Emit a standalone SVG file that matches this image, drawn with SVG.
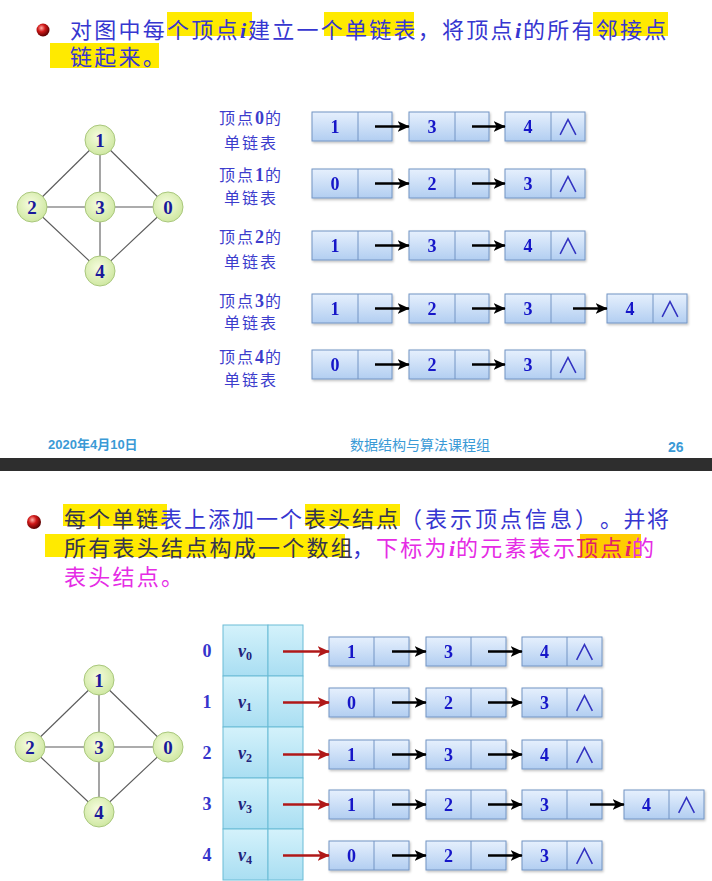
<svg xmlns="http://www.w3.org/2000/svg" width="712" height="881" viewBox="0 0 712 881">
<defs>
<style>
.t{font-family:"Noto Sans CJK SC","Liberation Sans",sans-serif;font-size:22px;letter-spacing:2.25px}
.blue{fill:#3636d0}
.dark{fill:#34344e}
.mag{fill:#e52ce5}
.red{fill:#e0206a}
.it{font-family:"Liberation Serif",serif;font-style:italic;font-weight:bold}
.hl{fill:#ffea00}
.hl2{fill:#ffcc00}
.lab{font-family:"Noto Sans CJK SC","Liberation Sans",sans-serif;font-size:16px;fill:#3c3ccc;text-anchor:middle;letter-spacing:2px}
.ld{font-family:"Liberation Serif",serif;font-weight:bold;font-size:18px;letter-spacing:1px}
.bx rect{fill:url(#gBox);stroke:#7394c4;stroke-width:1}
.bx line{stroke:#7394c4;stroke-width:1}
.bx{filter:url(#sh)}
.num{font-family:"Liberation Serif",serif;font-weight:bold;font-size:18px;fill:#1515c8;text-anchor:middle}
.nil{font-family:"Noto Sans CJK SC","DejaVu Sans",sans-serif;font-size:22px;fill:#3030c0;text-anchor:middle}
.ar{stroke:#000;stroke-width:2.4;fill:none;marker-end:url(#ah)}
.ar2{stroke:#b01818;stroke-width:2.4;fill:none;marker-end:url(#ahr)}
.ed{stroke:#5a5a5a;stroke-width:1.1}
.gn circle{fill:url(#gNode);stroke:#a9c77c;stroke-width:1}
.gn text{font-family:"Liberation Serif",serif;font-weight:bold;font-size:19px;fill:#1a1a9a;text-anchor:middle}
.cell{fill:url(#gArr);stroke:#6bbcd6;stroke-width:1}
.vl{font-family:"Liberation Serif",serif;font-style:italic;font-weight:bold;font-size:18px;fill:#22227a}
.sub{font-style:normal;font-size:12px}
.idx{font-family:"Liberation Serif",serif;font-weight:bold;font-size:18px;fill:#3535cc;text-anchor:middle}
.ft{font-family:"Liberation Sans","Noto Sans CJK SC",sans-serif;fill:#3a9ad6}
</style>
<linearGradient id="gBox" x1="0" y1="0" x2="0" y2="1">
<stop offset="0" stop-color="#e6f0fd"/>
<stop offset="1" stop-color="#b2cef1"/>
</linearGradient>
<linearGradient id="gArr" x1="0" y1="0" x2="0" y2="1">
<stop offset="0" stop-color="#d4f2fb"/>
<stop offset="1" stop-color="#a9def2"/>
</linearGradient>
<radialGradient id="gNode" cx="0.45" cy="0.4" r="0.6">
<stop offset="0" stop-color="#f6fcde"/>
<stop offset="1" stop-color="#cfe8a2"/>
</radialGradient>
<radialGradient id="gBul" cx="0.38" cy="0.35" r="0.65">
<stop offset="0" stop-color="#ffb0a8"/>
<stop offset="0.45" stop-color="#d01818"/>
<stop offset="1" stop-color="#5a0000"/>
</radialGradient>
<filter id="sh" x="-10%" y="-20%" width="130%" height="160%">
<feDropShadow dx="1" dy="1.5" stdDeviation="0.8" flood-color="#000" flood-opacity="0.25"/>
</filter>
<marker id="ah" markerUnits="userSpaceOnUse" viewBox="0 0 10 10" markerWidth="12" markerHeight="12" refX="9.5" refY="5" orient="auto">
<path d="M0,0.5 L10,5 L0,9.5 L2.5,5 z" fill="#000"/>
</marker>
<marker id="ahr" markerUnits="userSpaceOnUse" viewBox="0 0 10 10" markerWidth="12" markerHeight="12" refX="9.5" refY="5" orient="auto">
<path d="M0,0.5 L10,5 L0,9.5 L2.5,5 z" fill="#b01818"/>
</marker>
</defs>
<rect width="712" height="881" fill="#fff"/>

<!-- ===== Top slide ===== -->
<g id="title1">
<rect class="hl" x="167" y="12" width="85" height="24"/>
<rect class="hl" x="324" y="12" width="90" height="24"/>
<rect class="hl" x="593" y="12" width="75" height="24"/>
<rect class="hl" x="50" y="43" width="109" height="25"/>
<circle cx="43" cy="30" r="6.5" fill="url(#gBul)"/>
<text class="t blue" y="38"><tspan x="70">对图中每个顶点</tspan><tspan class="it" x="240" letter-spacing="0">i</tspan><tspan x="248">建立一个单链表，将顶点</tspan><tspan class="it" x="515" letter-spacing="0">i</tspan><tspan x="523">的所有邻接点</tspan></text>
<text class="t blue" x="70" y="65">链起来。</text>
</g>

<g id="graph1-edges">
<line class="ed" x1="100" y1="140" x2="32" y2="207"/>
<line class="ed" x1="100" y1="140" x2="168" y2="207"/>
<line class="ed" x1="100" y1="140" x2="100" y2="207"/>
<line class="ed" x1="32" y1="207" x2="168" y2="207"/>
<line class="ed" x1="32" y1="207" x2="100" y2="271"/>
<line class="ed" x1="168" y1="207" x2="100" y2="271"/>
<line class="ed" x1="100" y1="207" x2="100" y2="271"/>
</g>
<g id="g1-v1" class="gn"><circle cx="100" cy="140" r="15"/><text x="100" y="147">1</text></g>
<g id="g1-v2" class="gn"><circle cx="32" cy="207" r="15"/><text x="32" y="214">2</text></g>
<g id="g1-v3" class="gn"><circle cx="100" cy="207" r="15"/><text x="100" y="214">3</text></g>
<g id="g1-v0" class="gn"><circle cx="168" cy="207" r="15"/><text x="168" y="214">0</text></g>
<g id="g1-v4" class="gn"><circle cx="100" cy="271" r="15"/><text x="100" y="278">4</text></g>

<g id="labels1">
<text class="lab" x="251" y="124">顶点<tspan class="ld">0</tspan>的</text>
<text class="lab" x="251" y="149">单链表</text>
<text class="lab" x="251" y="181">顶点<tspan class="ld">1</tspan>的</text>
<text class="lab" x="251" y="204">单链表</text>
<text class="lab" x="251" y="243">顶点<tspan class="ld">2</tspan>的</text>
<text class="lab" x="251" y="268">单链表</text>
<text class="lab" x="251" y="307">顶点<tspan class="ld">3</tspan>的</text>
<text class="lab" x="251" y="329">单链表</text>
<text class="lab" x="251" y="363">顶点<tspan class="ld">4</tspan>的</text>
<text class="lab" x="251" y="386">单链表</text>
</g>

<!-- top lists -->
<g id="t0a" class="bx" transform="translate(312,112)"><rect width="80" height="29"/><line x1="46" y1="0" x2="46" y2="29"/><text class="num" x="23" y="21">1</text></g>
<g id="t0b" class="bx" transform="translate(409,112)"><rect width="80" height="29"/><line x1="46" y1="0" x2="46" y2="29"/><text class="num" x="23" y="21">3</text></g>
<g id="t0c" class="bx" transform="translate(505,112)"><rect width="80" height="29"/><line x1="46" y1="0" x2="46" y2="29"/><text class="num" x="23" y="21">4</text><text class="nil" x="63" y="23">∧</text></g>

<g id="t1a" class="bx" transform="translate(312,169)"><rect width="80" height="29"/><line x1="46" y1="0" x2="46" y2="29"/><text class="num" x="23" y="21">0</text></g>
<g id="t1b" class="bx" transform="translate(409,169)"><rect width="80" height="29"/><line x1="46" y1="0" x2="46" y2="29"/><text class="num" x="23" y="21">2</text></g>
<g id="t1c" class="bx" transform="translate(505,169)"><rect width="80" height="29"/><line x1="46" y1="0" x2="46" y2="29"/><text class="num" x="23" y="21">3</text><text class="nil" x="63" y="23">∧</text></g>

<g id="t2a" class="bx" transform="translate(312,231)"><rect width="80" height="29"/><line x1="46" y1="0" x2="46" y2="29"/><text class="num" x="23" y="21">1</text></g>
<g id="t2b" class="bx" transform="translate(409,231)"><rect width="80" height="29"/><line x1="46" y1="0" x2="46" y2="29"/><text class="num" x="23" y="21">3</text></g>
<g id="t2c" class="bx" transform="translate(505,231)"><rect width="80" height="29"/><line x1="46" y1="0" x2="46" y2="29"/><text class="num" x="23" y="21">4</text><text class="nil" x="63" y="23">∧</text></g>

<g id="t3a" class="bx" transform="translate(312,294)"><rect width="80" height="29"/><line x1="46" y1="0" x2="46" y2="29"/><text class="num" x="23" y="21">1</text></g>
<g id="t3b" class="bx" transform="translate(409,294)"><rect width="80" height="29"/><line x1="46" y1="0" x2="46" y2="29"/><text class="num" x="23" y="21">2</text></g>
<g id="t3c" class="bx" transform="translate(505,294)"><rect width="80" height="29"/><line x1="46" y1="0" x2="46" y2="29"/><text class="num" x="23" y="21">3</text></g>
<g id="t3d" class="bx" transform="translate(607,294)"><rect width="80" height="29"/><line x1="46" y1="0" x2="46" y2="29"/><text class="num" x="23" y="21">4</text><text class="nil" x="63" y="23">∧</text></g>

<g id="t4a" class="bx" transform="translate(312,350)"><rect width="80" height="29"/><line x1="46" y1="0" x2="46" y2="29"/><text class="num" x="23" y="21">0</text></g>
<g id="t4b" class="bx" transform="translate(409,350)"><rect width="80" height="29"/><line x1="46" y1="0" x2="46" y2="29"/><text class="num" x="23" y="21">2</text></g>
<g id="t4c" class="bx" transform="translate(505,350)"><rect width="80" height="29"/><line x1="46" y1="0" x2="46" y2="29"/><text class="num" x="23" y="21">3</text><text class="nil" x="63" y="23">∧</text></g>

<g id="connectors1">
<line class="ar" x1="375" y1="126.5" x2="409" y2="126.5"/>
<line class="ar" x1="472" y1="126.5" x2="505" y2="126.5"/>
<line class="ar" x1="375" y1="183.5" x2="409" y2="183.5"/>
<line class="ar" x1="472" y1="183.5" x2="505" y2="183.5"/>
<line class="ar" x1="375" y1="245.5" x2="409" y2="245.5"/>
<line class="ar" x1="472" y1="245.5" x2="505" y2="245.5"/>
<line class="ar" x1="375" y1="308.5" x2="409" y2="308.5"/>
<line class="ar" x1="472" y1="308.5" x2="505" y2="308.5"/>
<line class="ar" x1="573" y1="308.5" x2="607" y2="308.5"/>
<line class="ar" x1="375" y1="364.5" x2="409" y2="364.5"/>
<line class="ar" x1="472" y1="364.5" x2="505" y2="364.5"/>
</g>

<g id="footer">
<text class="ft" x="48" y="449" font-size="13" font-weight="bold">2020年4月10日</text>
<text class="ft" x="420" y="450" font-size="14" text-anchor="middle">数据结构与算法课程组</text>
<text class="ft" x="668" y="452" font-size="14" font-weight="bold">26</text>
</g>
<rect id="divider" x="0" y="458" width="712" height="13" fill="#2e2e2e"/>

<!-- ===== Bottom slide ===== -->
<g id="title2">
<rect class="hl" x="63" y="504" width="104" height="22"/>
<rect class="hl" x="305" y="504" width="95" height="22"/>
<rect class="hl" x="45" y="534" width="300" height="23"/>
<rect class="hl2" x="580" y="534" width="61" height="24"/>
<circle cx="34" cy="522" r="7" fill="url(#gBul)"/>
<text class="t" y="527"><tspan class="dark" x="64" letter-spacing="2">每个单链</tspan><tspan class="blue" x="160" letter-spacing="2">表上添加一个</tspan><tspan class="dark" x="304" letter-spacing="2">表头结点</tspan><tspan class="blue" x="400" letter-spacing="3">（表示顶点信息）</tspan><tspan class="blue" x="600" letter-spacing="1.5">。并将</tspan></text>
<text class="t" y="556" letter-spacing="2"><tspan class="dark" x="64">所有表头结点构成一个数组</tspan><tspan class="blue" x="352">，</tspan><tspan class="mag" x="376">下标为</tspan><tspan class="mag it" x="449" letter-spacing="0">i</tspan><tspan class="mag" x="456">的元素表示</tspan><tspan class="red" x="576">顶点</tspan><tspan class="red it" x="625" letter-spacing="0">i</tspan><tspan class="mag" x="632">的</tspan></text>
<text class="t mag" x="64" y="585" letter-spacing="2">表头结点。</text>
</g>

<g id="graph2-edges">
<line class="ed" x1="99" y1="680" x2="30" y2="747"/>
<line class="ed" x1="99" y1="680" x2="168" y2="747"/>
<line class="ed" x1="99" y1="680" x2="99" y2="747"/>
<line class="ed" x1="30" y1="747" x2="168" y2="747"/>
<line class="ed" x1="30" y1="747" x2="99" y2="812"/>
<line class="ed" x1="168" y1="747" x2="99" y2="812"/>
<line class="ed" x1="99" y1="747" x2="99" y2="812"/>
</g>
<g id="g2-v1" class="gn"><circle cx="99" cy="680" r="15"/><text x="99" y="687">1</text></g>
<g id="g2-v2" class="gn"><circle cx="30" cy="747" r="15"/><text x="30" y="754">2</text></g>
<g id="g2-v3" class="gn"><circle cx="99" cy="747" r="15"/><text x="99" y="754">3</text></g>
<g id="g2-v0" class="gn"><circle cx="168" cy="747" r="15"/><text x="168" y="754">0</text></g>
<g id="g2-v4" class="gn"><circle cx="99" cy="812" r="15"/><text x="99" y="819">4</text></g>

<g id="head-array">
<g id="h0"><text class="idx" x="207" y="657">0</text><rect class="cell" x="223" y="625" width="45" height="51"/><rect class="cell" x="268" y="625" width="35" height="51"/><text class="vl" x="238" y="657">v<tspan class="sub" dy="3">0</tspan></text></g>
<g id="h1"><text class="idx" x="207" y="708">1</text><rect class="cell" x="223" y="676" width="45" height="51"/><rect class="cell" x="268" y="676" width="35" height="51"/><text class="vl" x="238" y="708">v<tspan class="sub" dy="3">1</tspan></text></g>
<g id="h2"><text class="idx" x="207" y="759">2</text><rect class="cell" x="223" y="727" width="45" height="51"/><rect class="cell" x="268" y="727" width="35" height="51"/><text class="vl" x="238" y="759">v<tspan class="sub" dy="3">2</tspan></text></g>
<g id="h3"><text class="idx" x="207" y="810">3</text><rect class="cell" x="223" y="778" width="45" height="51"/><rect class="cell" x="268" y="778" width="35" height="51"/><text class="vl" x="238" y="810">v<tspan class="sub" dy="3">3</tspan></text></g>
<g id="h4"><text class="idx" x="207" y="861">4</text><rect class="cell" x="223" y="829" width="45" height="51"/><rect class="cell" x="268" y="829" width="35" height="51"/><text class="vl" x="238" y="861">v<tspan class="sub" dy="3">4</tspan></text></g>
</g>

<g id="b0a" class="bx" transform="translate(329,637)"><rect width="80" height="29"/><line x1="45" y1="0" x2="45" y2="29"/><text class="num" x="22.5" y="21">1</text></g>
<g id="b0b" class="bx" transform="translate(426,637)"><rect width="80" height="29"/><line x1="45" y1="0" x2="45" y2="29"/><text class="num" x="22.5" y="21">3</text></g>
<g id="b0c" class="bx" transform="translate(522,637)"><rect width="80" height="29"/><line x1="45" y1="0" x2="45" y2="29"/><text class="num" x="22.5" y="21">4</text><text class="nil" x="62.5" y="23">∧</text></g>

<g id="b1a" class="bx" transform="translate(329,688)"><rect width="80" height="29"/><line x1="45" y1="0" x2="45" y2="29"/><text class="num" x="22.5" y="21">0</text></g>
<g id="b1b" class="bx" transform="translate(426,688)"><rect width="80" height="29"/><line x1="45" y1="0" x2="45" y2="29"/><text class="num" x="22.5" y="21">2</text></g>
<g id="b1c" class="bx" transform="translate(522,688)"><rect width="80" height="29"/><line x1="45" y1="0" x2="45" y2="29"/><text class="num" x="22.5" y="21">3</text><text class="nil" x="62.5" y="23">∧</text></g>

<g id="b2a" class="bx" transform="translate(329,740)"><rect width="80" height="29"/><line x1="45" y1="0" x2="45" y2="29"/><text class="num" x="22.5" y="21">1</text></g>
<g id="b2b" class="bx" transform="translate(426,740)"><rect width="80" height="29"/><line x1="45" y1="0" x2="45" y2="29"/><text class="num" x="22.5" y="21">3</text></g>
<g id="b2c" class="bx" transform="translate(522,740)"><rect width="80" height="29"/><line x1="45" y1="0" x2="45" y2="29"/><text class="num" x="22.5" y="21">4</text><text class="nil" x="62.5" y="23">∧</text></g>

<g id="b3a" class="bx" transform="translate(329,790)"><rect width="80" height="29"/><line x1="45" y1="0" x2="45" y2="29"/><text class="num" x="22.5" y="21">1</text></g>
<g id="b3b" class="bx" transform="translate(426,790)"><rect width="80" height="29"/><line x1="45" y1="0" x2="45" y2="29"/><text class="num" x="22.5" y="21">2</text></g>
<g id="b3c" class="bx" transform="translate(522,790)"><rect width="80" height="29"/><line x1="45" y1="0" x2="45" y2="29"/><text class="num" x="22.5" y="21">3</text></g>
<g id="b3d" class="bx" transform="translate(624,790)"><rect width="80" height="29"/><line x1="45" y1="0" x2="45" y2="29"/><text class="num" x="22.5" y="21">4</text><text class="nil" x="62.5" y="23">∧</text></g>

<g id="b4a" class="bx" transform="translate(329,841)"><rect width="80" height="29"/><line x1="45" y1="0" x2="45" y2="29"/><text class="num" x="22.5" y="21">0</text></g>
<g id="b4b" class="bx" transform="translate(426,841)"><rect width="80" height="29"/><line x1="45" y1="0" x2="45" y2="29"/><text class="num" x="22.5" y="21">2</text></g>
<g id="b4c" class="bx" transform="translate(522,841)"><rect width="80" height="29"/><line x1="45" y1="0" x2="45" y2="29"/><text class="num" x="22.5" y="21">3</text><text class="nil" x="62.5" y="23">∧</text></g>

<g id="connectors2">
<line class="ar2" x1="283" y1="651.5" x2="329" y2="651.5"/>
<line class="ar2" x1="283" y1="702.5" x2="329" y2="702.5"/>
<line class="ar2" x1="283" y1="754.5" x2="329" y2="754.5"/>
<line class="ar2" x1="283" y1="804.5" x2="329" y2="804.5"/>
<line class="ar2" x1="283" y1="855.5" x2="329" y2="855.5"/>
<line class="ar" x1="392" y1="651.5" x2="426" y2="651.5"/>
<line class="ar" x1="488" y1="651.5" x2="522" y2="651.5"/>
<line class="ar" x1="392" y1="702.5" x2="426" y2="702.5"/>
<line class="ar" x1="488" y1="702.5" x2="522" y2="702.5"/>
<line class="ar" x1="392" y1="754.5" x2="426" y2="754.5"/>
<line class="ar" x1="488" y1="754.5" x2="522" y2="754.5"/>
<line class="ar" x1="392" y1="804.5" x2="426" y2="804.5"/>
<line class="ar" x1="488" y1="804.5" x2="522" y2="804.5"/>
<line class="ar" x1="590" y1="804.5" x2="624" y2="804.5"/>
<line class="ar" x1="392" y1="855.5" x2="426" y2="855.5"/>
<line class="ar" x1="488" y1="855.5" x2="522" y2="855.5"/>
</g>
</svg>
